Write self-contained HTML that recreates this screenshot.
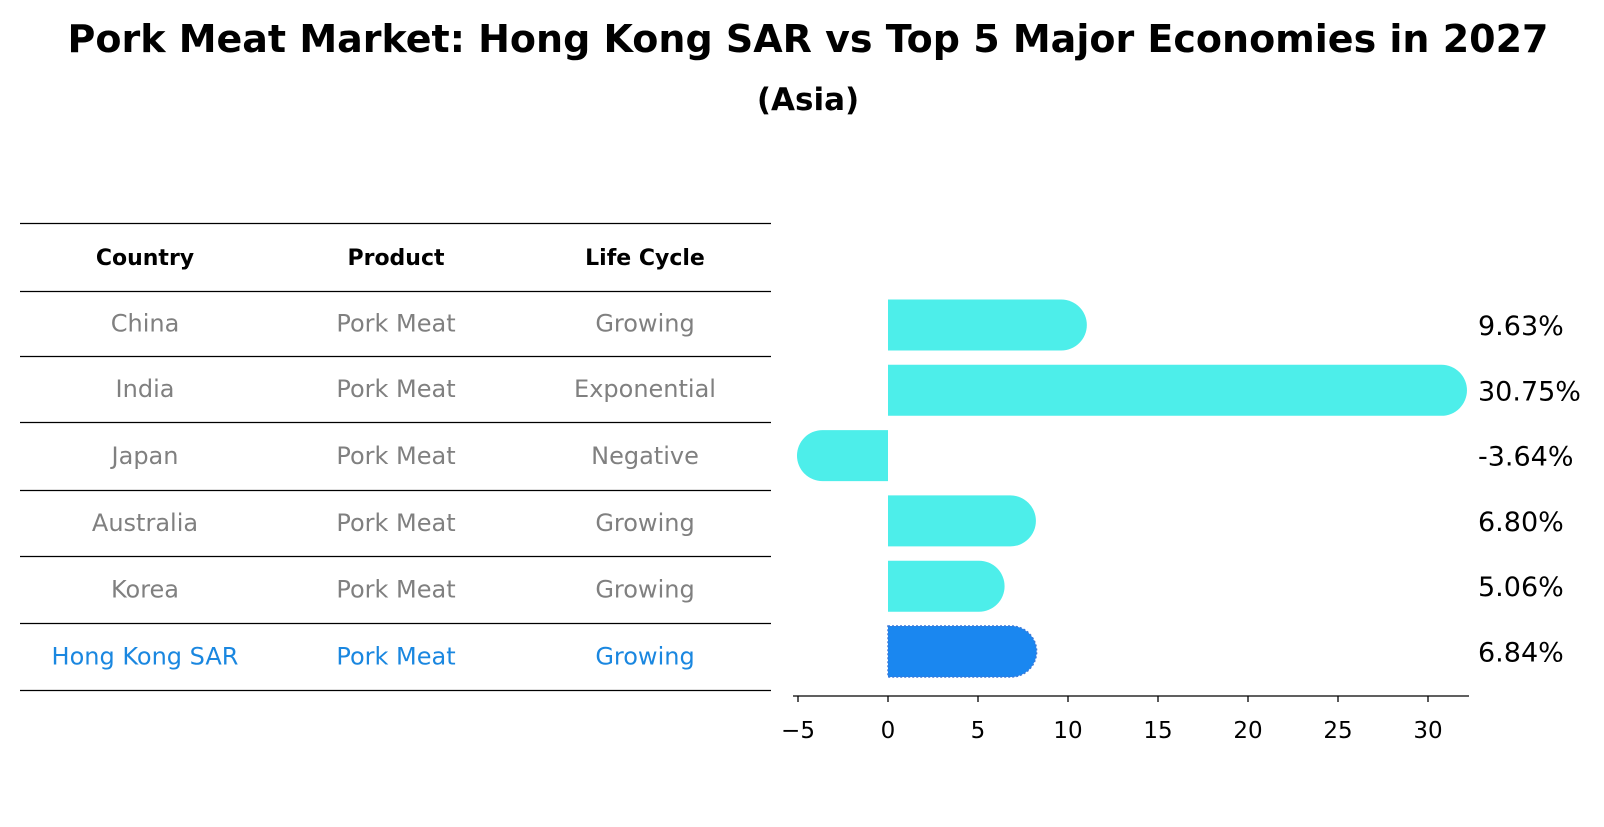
<!DOCTYPE html>
<html><head><meta charset="utf-8"><style>
body{margin:0;background:#fff;width:1604px;height:823px;overflow:hidden;font-family:"DejaVu Sans","Liberation Sans",sans-serif}
</style></head><body>
<svg id="c" width="1604" height="823" xmlns="http://www.w3.org/2000/svg">
<text x="808" y="52" text-anchor="middle" font-size="38" font-weight="bold">Pork Meat Market: Hong Kong SAR vs Top 5 Major Economies in 2027</text>
<text x="808" y="110" text-anchor="middle" font-size="31" font-weight="bold">(Asia)</text>
<g id="table"></g>
<g id="bars"></g>
</svg>
<script>
const countries=["China","India","Japan","Australia","Korea","Hong Kong SAR"];
const products=["Pork Meat","Pork Meat","Pork Meat","Pork Meat","Pork Meat","Pork Meat"];
const lifeCycles=["Growing","Exponential","Negative","Growing","Growing","Growing"];
const growth=[9.63,30.75,-3.64,6.80,5.06,6.84];
const ticks=[-5,0,5,10,15,20,25,30];
const NS="http://www.w3.org/2000/svg";
function mk(t,a,p,txt){const e=document.createElementNS(NS,t);for(const k in a)e.setAttribute(k,a[k]);if(txt!==undefined)e.textContent=txt;p.appendChild(e);return e;}
const tb=document.getElementById('table');
const lineYs=[223,291,356,422,490,556,623,690];
lineYs.forEach((y,i)=>{const l=mk('line',{x1:20,x2:771,y1:y+0.5,y2:y+0.5,stroke:'#000','stroke-width':1.2},tb);

});
const colX=[145,396,645];
["Country","Product","Life Cycle"].forEach((h,i)=>{const t=mk('text',{x:colX[i],y:265,'text-anchor':'middle','font-size':22,'font-weight':'bold'},tb,h);

});
countries.forEach((c,r)=>{const y=(lineYs[r+1]+lineYs[r+2])/2+8;const col=r===countries.length-1?'#1a87e0':'#808080';
[c,products[r],lifeCycles[r]].forEach((v,i)=>{const t=mk('text',{x:colX[i],y:y,'text-anchor':'middle','font-size':24,fill:col},tb,v);

});});
const bg=document.getElementById('bars');
const x0=888,ppu=18;const X=v=>x0+v*ppu;
const rowY=i=>325+i*65.3;const bh=51,rad=25.5;
growth.forEach((v,i)=>{const cy=rowY(i);const hk=i===growth.length-1;const col=hk?'#1a87f0':'#4deeea';
const xe=X(v);const dir=v>=0?1:-1;
const d=`M${x0},${cy-bh/2} L${xe},${cy-bh/2} A${rad},${bh/2} 0 0 ${dir>0?1:0} ${xe},${cy+bh/2} L${x0},${cy+bh/2} Z`;
const p=mk('path',{d:d,fill:col},bg);
if(hk){p.setAttribute('stroke','#3a78d8');p.setAttribute('stroke-dasharray','2,2');p.setAttribute('stroke-width','1.5');}


const t=mk('text',{x:1478,y:cy+10,'font-size':27},bg,v.toFixed(2)+'%');

});
const ax=mk('line',{x1:793,x2:1469,y1:696,y2:696,stroke:'#000','stroke-width':1.3},bg);


ticks.forEach(t=>{const tk=mk('line',{x1:X(t),x2:X(t),y1:696,y2:702,stroke:'#000','stroke-width':1.3},bg);


const l=mk('text',{x:X(t),y:738,'text-anchor':'middle','font-size':23},bg,t<0?'\u2212'+(-t):String(t));

});
</script>
</body></html>
